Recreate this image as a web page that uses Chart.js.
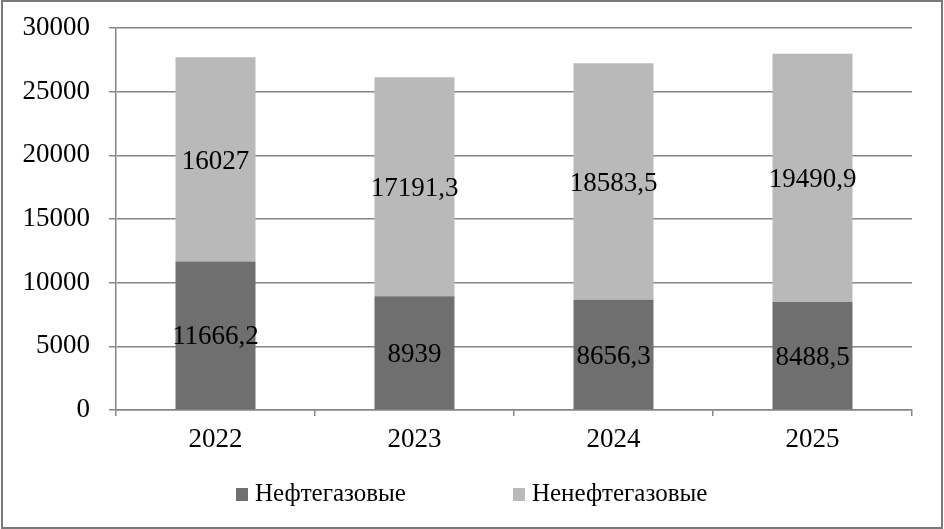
<!DOCTYPE html>
<html>
<head>
<meta charset="utf-8">
<script src="https://cdn.jsdelivr.net/npm/chart.js@4"></script>
<style>
	html, body { margin: 0; padding: 0; background: #fff; }
	#wrap { width: 944px; height: 529px; }
</style>
</head>
<body>
<div id="wrap"><canvas id="chart" width="944" height="529"></canvas></div>
<script>
var years = ["2022", "2023", "2024", "2025"];
var oilGas = [11666.2, 8939, 8656.3, 8488.5];
var nonOilGas = [16027, 17191.3, 18583.5, 19490.9];
var seriesNames = ["Нефтегазовые", "Ненефтегазовые"];
var seriesColors = ["#6f6f6f", "#b9b9b9"];

var FONT = "'Liberation Serif', 'Times New Roman', serif";
var FSIZE = 27;

function fmt(v) {
	return String(v).replace(".", ",");
}

// values in the middle of each segment
var segmentLabels = {
	id: "segmentLabels",
	afterDatasetsDraw(chart) {
		var ctx = chart.ctx;
		ctx.save();
		ctx.font = FSIZE + "px " + FONT;
		ctx.fillStyle = "#000";
		ctx.textAlign = "center";
		ctx.textBaseline = "middle";
		chart.data.datasets.forEach(function (ds, i) {
			chart.getDatasetMeta(i).data.forEach(function (bar, j) {
				var p = bar.getProps(["x", "y", "base"], true);
				ctx.fillText(fmt(ds.data[j]), p.x, (p.y + p.base) / 2 + 2);
			});
		});
		ctx.restore();
	},
};

// legend drawn by hand so the wide gap between items can be kept
var bottomLegend = {
	id: "bottomLegend",
	afterDraw(chart) {
		var ctx = chart.ctx;
		ctx.save();
		ctx.font = "25px " + FONT;
		ctx.textBaseline = "middle";
		var box = 12, gap = 7, spacing = 107, y = 494;
		var items = chart.data.datasets.map(function (ds) {
			return { text: ds.label, color: ds.backgroundColor, w: ctx.measureText(ds.label).width };
		});
		var total = 0;
		items.forEach(function (it, i) {
			total += box + gap + it.w + (i ? spacing : 0);
		});
		var x = Math.round(chart.width / 2 - total / 2);
		items.forEach(function (it) {
			ctx.fillStyle = it.color;
			ctx.fillRect(x, y - 6, box, 13);
			ctx.fillStyle = "#000";
			ctx.fillText(it.text, x + box + gap, y);
			x += box + gap + it.w + spacing;
		});
		ctx.restore();
	},
};

var frame = {
	id: "frame",
	afterDraw(chart) {
		var ctx = chart.ctx;
		ctx.save();
		ctx.strokeStyle = "#7a7a7a";
		ctx.lineWidth = 2;
		ctx.strokeRect(2, 1, chart.width - 4, chart.height - 2);
		ctx.restore();
	},
};

new Chart(document.getElementById("chart"), {
	type: "bar",
	data: {
		labels: years,
		datasets: [
			{
				label: seriesNames[0],
				data: oilGas,
				backgroundColor: seriesColors[0],
			},
			{
				label: seriesNames[1],
				data: nonOilGas,
				backgroundColor: seriesColors[1],
			},
		],
	},
	options: {
		responsive: false,
		animation: false,
		barPercentage: 1,
		categoryPercentage: 0.402,
		layout: {
			padding: { left: 0, top: 28, right: 32, bottom: 69 },
		},
		plugins: {
			legend: { display: false },
			tooltip: { enabled: false },
		},
		scales: {
			x: {
				stacked: true,
				afterFit(scale) {
					scale.height = 50;
				},
				grid: {
					display: true,
					offset: true,
					drawOnChartArea: false,
					drawTicks: true,
					tickLength: 6,
					color: "#868686",
					lineWidth: 1.5,
				},
				border: { color: "#868686", width: 1.5 },
				ticks: {
					color: "#000",
					padding: 8,
					font: { family: FONT, size: FSIZE },
				},
			},
			y: {
				stacked: true,
				min: 0,
				max: 30000,
				afterFit(scale) {
					scale.width = 116;
					scale.paddingTop = 0;
					scale.paddingBottom = 0;
				},
				grid: {
					color: "#868686",
					lineWidth: 1.5,
					drawTicks: true,
					tickLength: 7,
				},
				border: { color: "#868686", width: 1.5 },
				ticks: {
					stepSize: 5000,
					color: "#000",
					padding: 19,
					font: { family: FONT, size: FSIZE },
					callback: (value) => String(value),
				},
			},
		},
	},
	plugins: [segmentLabels, bottomLegend, frame],
});
</script>
</body>
</html>
